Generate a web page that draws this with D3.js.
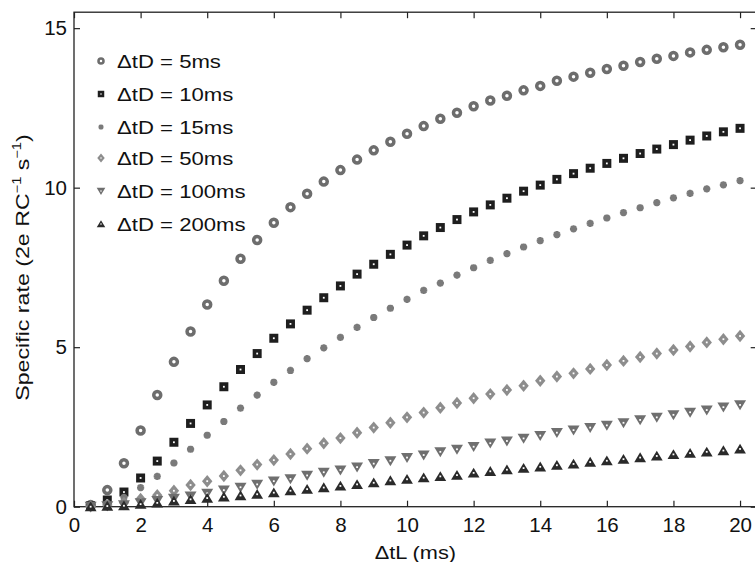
<!DOCTYPE html>
<html>
<head>
<meta charset="utf-8">
<script src="https://cdn.jsdelivr.net/npm/d3@7"></script>
<style>
  body { margin: 0; background: #fff; }
  svg text { font-family: "Liberation Sans", Arial, Helvetica, sans-serif; }
</style>
</head>
<body>
<svg id="chart" width="755" height="562"></svg>
<script>
// delta tL (ms)
const tL = [0.5, 1, 1.5, 2, 2.5, 3, 3.5, 4, 4.5, 5, 5.5, 6, 6.5, 7, 7.5, 8, 8.5, 9, 9.5, 10,
            10.5, 11, 11.5, 12, 12.5, 13, 13.5, 14, 14.5, 15, 15.5, 16, 16.5, 17, 17.5, 18, 18.5, 19, 19.5, 20]

const tD5 = [0.05, 0.52, 1.36, 2.39, 3.5, 4.54, 5.49, 6.34, 7.08, 7.77, 8.36, 8.9, 9.39, 9.81, 10.19, 10.55, 10.88, 11.17, 11.44, 11.69,
             11.93, 12.16, 12.35, 12.55, 12.73, 12.88, 13.05, 13.19, 13.35, 13.48, 13.6, 13.72, 13.82, 13.94, 14.04, 14.13, 14.24, 14.32, 14.4, 14.48]
const tD10 = [0.03, 0.21, 0.46, 0.9, 1.43, 2.02, 2.61, 3.19, 3.76, 4.3, 4.8, 5.28, 5.73, 6.16, 6.55, 6.92, 7.29, 7.6, 7.91, 8.2,
              8.49, 8.75, 9.0, 9.24, 9.46, 9.67, 9.89, 10.08, 10.26, 10.44, 10.61, 10.76, 10.92, 11.07, 11.21, 11.35, 11.49, 11.62, 11.75, 11.86]
const tD15 = [0.02, 0.1, 0.29, 0.6, 0.95, 1.37, 1.8, 2.24, 2.67, 3.09, 3.5, 3.9, 4.27, 4.64, 4.98, 5.31, 5.62, 5.93, 6.22, 6.5,
              6.78, 7.01, 7.26, 7.49, 7.72, 7.93, 8.14, 8.34, 8.53, 8.71, 8.88, 9.05, 9.22, 9.37, 9.53, 9.68, 9.82, 9.96, 10.09, 10.22]
const tD50 = [0.01, 0.05, 0.12, 0.24, 0.36, 0.5, 0.68, 0.8, 0.96, 1.14, 1.32, 1.46, 1.65, 1.82, 1.99, 2.15, 2.32, 2.48, 2.63, 2.8,
              2.95, 3.1, 3.25, 3.4, 3.53, 3.66, 3.79, 3.95, 4.08, 4.18, 4.32, 4.44, 4.57, 4.69, 4.8, 4.91, 5.02, 5.15, 5.25, 5.35]
const tD100 = [0.01, 0.03, 0.06, 0.12, 0.19, 0.26, 0.33, 0.42, 0.52, 0.61, 0.7, 0.8, 0.87, 0.98, 1.08, 1.15, 1.24, 1.35, 1.44, 1.54,
               1.62, 1.72, 1.8, 1.88, 1.99, 2.06, 2.14, 2.23, 2.32, 2.4, 2.48, 2.55, 2.63, 2.72, 2.8, 2.88, 2.96, 3.03, 3.12, 3.19]
const tD200 = [0.0, 0.02, 0.03, 0.08, 0.12, 0.18, 0.23, 0.27, 0.31, 0.35, 0.39, 0.44, 0.5, 0.55, 0.6, 0.65, 0.7, 0.75, 0.82, 0.86,
               0.91, 0.95, 0.99, 1.06, 1.11, 1.16, 1.21, 1.25, 1.3, 1.34, 1.4, 1.44, 1.49, 1.54, 1.59, 1.64, 1.68, 1.72, 1.76, 1.81]

const labels = ["\u0394tD = 5ms", "\u0394tD = 10ms", "\u0394tD = 15ms", "\u0394tD = 50ms", "\u0394tD = 100ms", "\u0394tD = 200ms"]
const xTicks = [0, 2, 4, 6, 8, 10, 12, 14, 16, 18, 20]
const yTicks = [0, 5, 10, 15]

// marker outlines (s = scale). solid shapes get a tiny white dot in the middle
const shapes = {
  circle: s => { const r = 3.5 * s
    return `M${r},0A${r},${r} 0 1,1 ${-r},0A${r},${r} 0 1,1 ${r},0Z` },
  square: s => { const h = 4.5 * s; return `M${-h},${-h}H${h}V${h}H${-h}Z` },
  star: s => { const a = 3.6 * s, b = 2.6 * s
    return `M${-a},0H${a}M0,${-a}V${a}M${-b},${-b}L${b},${b}M${-b},${b}L${b},${-b}` },
  diamond: s => `M0,${-6.2 * s}L${5.2 * s},0L0,${6.2 * s}L${-5.2 * s},0Z`,
  down: s => `M${-6 * s},${-4.6 * s}H${6 * s}L0,${5.4 * s}Z`,
  up: s => `M${-5.9 * s},${4.6 * s}H${5.9 * s}L0,${-5.2 * s}Z`
}

const series = [
  { values: tD5, shape: "circle", color: "#6d6d6d", kind: "ring", sw: 3.5 },
  { values: tD10, shape: "square", color: "#1e1e1e", kind: "solid" },
  { values: tD15, shape: "star", color: "#7a7a7a", kind: "line", sw: 2.3 },
  { values: tD50, shape: "diamond", color: "#8d8d8d", kind: "solid" },
  { values: tD100, shape: "down", color: "#6f6f6f", kind: "solid" },
  { values: tD200, shape: "up", color: "#2a2a2a", kind: "solid" }
]

const svg = d3.select("#chart")
const x = d3.scaleLinear().domain([0, 20.5]).range([74, 756.7])
const y = d3.scaleLinear().domain([0, 15.5]).range([506.7, 12.2])

// ticks
svg.append("g")
  .attr("transform", `translate(0,${y(0)})`)
  .call(d3.axisBottom(x).tickValues(xTicks).tickSizeInner(-6).tickSizeOuter(0).tickPadding(11))
svg.append("g")
  .attr("transform", `translate(0,${y(15.5)})`)
  .call(d3.axisTop(x).tickValues(xTicks).tickSizeInner(-6).tickSizeOuter(0).tickFormat(""))
svg.append("g")
  .attr("transform", `translate(${x(0)},0)`)
  .call(d3.axisLeft(y).tickValues(yTicks).tickSizeInner(-6).tickSizeOuter(0).tickPadding(7))
svg.append("g")
  .attr("transform", `translate(${x(20.5)},0)`)
  .call(d3.axisRight(y).tickValues(yTicks).tickSizeInner(-6).tickSizeOuter(0).tickFormat(""))

svg.selectAll(".domain").remove()
svg.selectAll(".tick line").attr("stroke", "#222").attr("stroke-width", 1.2)
svg.selectAll(".tick text").attr("font-size", 20.5).attr("fill", "#111")
  .style("font-family", '"Liberation Sans", Arial, sans-serif')

svg.append("rect")
  .attr("x", x(0)).attr("y", y(15.5))
  .attr("width", x(20.5) - x(0)).attr("height", y(0) - y(15.5))
  .attr("fill", "none").attr("stroke", "#222").attr("stroke-width", 1.3)

function drawMarker(sel, s, scale) {
  sel.append("path")
    .attr("d", shapes[s.shape](scale))
    .attr("fill", s.kind === "solid" ? s.color : "none")
    .attr("stroke", s.kind === "solid" ? "none" : s.color)
    .attr("stroke-width", s.kind === "solid" ? null : s.sw * scale)
  if (s.kind === "solid")
    sel.append("rect")
      .attr("x", -0.9 * scale).attr("y", -0.9 * scale)
      .attr("width", 1.8 * scale).attr("height", 1.8 * scale)
      .attr("fill", "#fff")
}

// points
series.forEach(s => {
  svg.append("g")
    .selectAll("g")
    .data(s.values)
    .enter()
    .append("g")
      .attr("transform", (d, i) => `translate(${x(tL[i])},${y(d)})`)
      .each(function () { drawMarker(d3.select(this), s, 1) })
})

// legend (text in the original is drawn a bit wide)
const legendY = [61, 94, 127, 158, 191, 224]
const legend = svg.append("g")
series.forEach((s, i) => {
  drawMarker(legend.append("g").attr("transform", `translate(101,${legendY[i]})`), s, 0.72)
  legend.append("text")
    .attr("transform", `translate(117,${legendY[i] + 6.7}) scale(1.19,1)`)
    .attr("font-size", 18.6)
    .attr("fill", "#111")
    .text(labels[i])
})

// axis titles
svg.append("text")
  .attr("transform", `translate(${(x(0) + x(20.5)) / 2},559) scale(1.17,1)`)
  .attr("text-anchor", "middle")
  .attr("font-size", 18.6)
  .attr("fill", "#111")
  .text("\u0394tL (ms)")

const yl = svg.append("text")
  .attr("transform", "translate(29,267.5) rotate(-90) scale(1.22,1)")
  .attr("text-anchor", "middle")
  .attr("font-size", 19)
  .attr("fill", "#111")
yl.append("tspan").text("Specific rate (2e RC")
yl.append("tspan").attr("font-size", 12).attr("dy", -8).text("\u22121")
yl.append("tspan").attr("dy", 8).text(" s")
yl.append("tspan").attr("font-size", 12).attr("dy", -8).text("\u22121")
yl.append("tspan").attr("dy", 8).text(")")
</script>
</body>
</html>
